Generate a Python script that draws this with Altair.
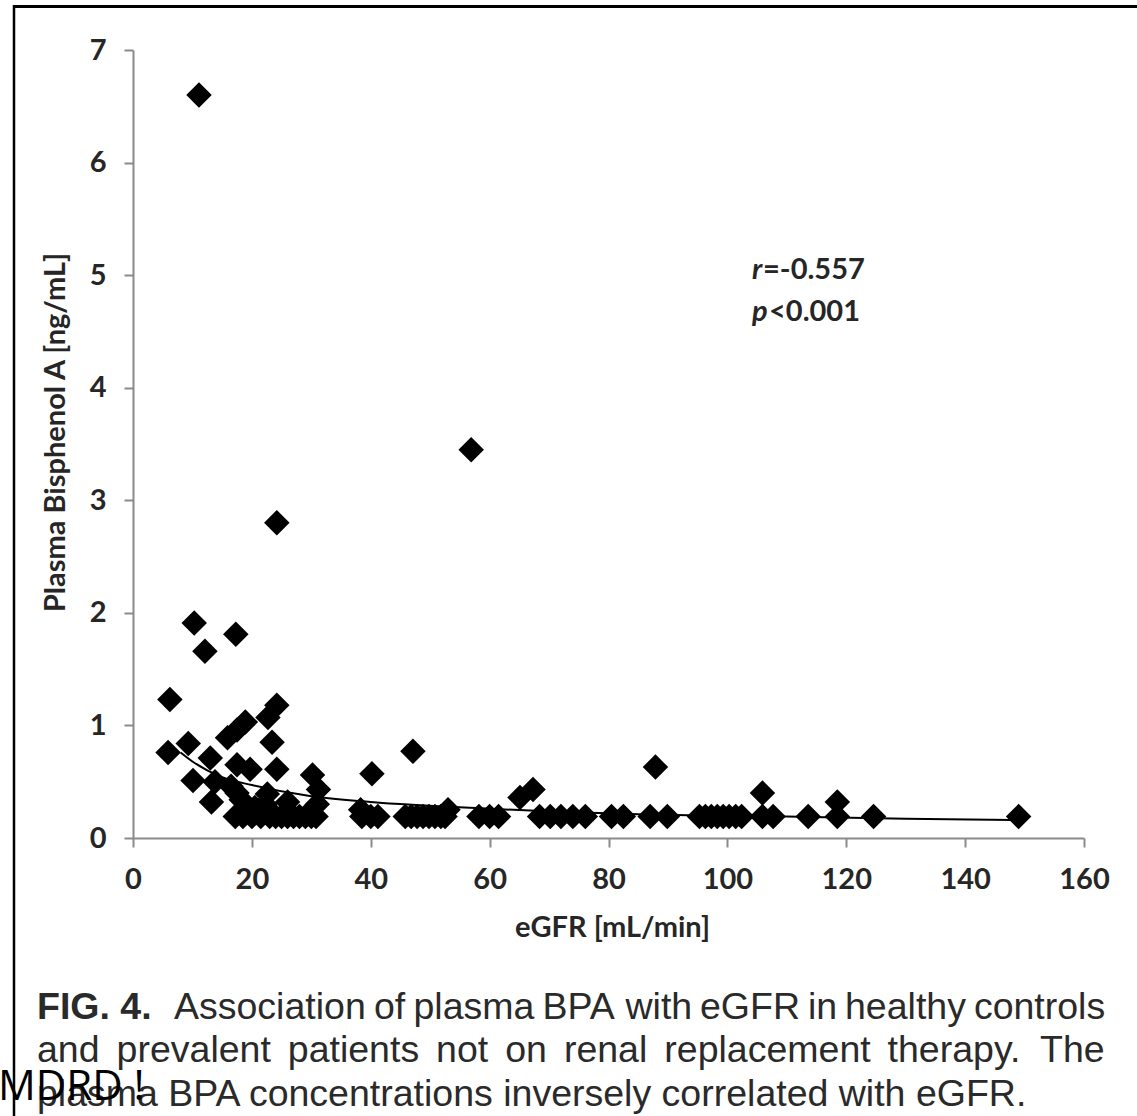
import altair as alt
import pandas as pd

# eGFR [mL/min] and plasma BPA [ng/mL] for each subject
egfr = [
    11.1, 56.9, 24.2, 10.3, 17.3, 12.1, 6.2, 24.2, 22.7, 18.9,
    17.5, 15.9, 23.4, 9.3, 5.9, 13.0, 47.1, 17.5, 19.7, 24.2,
    87.9, 40.2, 30.2, 10.1, 13.8, 16.5, 31.2, 17.5, 22.6, 18.2,
    13.2, 22.2, 26.0, 67.3, 65.1, 105.9, 118.5, 38.3, 53.0, 31.0,
    20.5,
    17.2, 18.5, 20.0, 21.5, 23.0, 24.0, 25.0, 26.0, 27.0, 28.0,
    29.0, 30.0, 30.8, 38.5, 40.0, 41.2, 45.8, 46.8, 47.8, 48.8,
    49.8, 50.8, 51.8, 52.5, 58.2, 60.0, 61.5, 68.4, 70.2, 72.0,
    74.0, 76.1, 80.5, 82.5, 87.0, 89.9, 95.3, 96.3, 97.3, 98.3,
    99.3, 100.3, 101.4, 102.4, 105.9, 107.7, 113.6, 118.5, 124.6, 149.0,
]
bpa = [
    6.60, 3.45, 2.80, 1.91, 1.81, 1.66, 1.23, 1.18, 1.07, 1.03,
    0.96, 0.89, 0.85, 0.84, 0.76, 0.71, 0.77, 0.65, 0.61, 0.61,
    0.63, 0.57, 0.56, 0.51, 0.50, 0.46, 0.43, 0.40, 0.39, 0.34,
    0.32, 0.30, 0.32, 0.43, 0.36, 0.40, 0.32, 0.25, 0.25, 0.30,
    0.27,
    0.19, 0.19, 0.19, 0.19, 0.19, 0.19, 0.19, 0.19, 0.19, 0.19,
    0.19, 0.19, 0.19, 0.19, 0.19, 0.19, 0.19, 0.19, 0.19, 0.19,
    0.19, 0.19, 0.19, 0.19, 0.19, 0.19, 0.19, 0.19, 0.19, 0.19,
    0.19, 0.19, 0.19, 0.19, 0.19, 0.19, 0.19, 0.19, 0.19, 0.19,
    0.19, 0.19, 0.19, 0.19, 0.19, 0.19, 0.19, 0.19, 0.19, 0.19,
]

# power-law trend line
trend_egfr = [8, 10, 15, 20, 30, 40, 60, 85, 110, 130, 149]
trend_bpa = [0.76, 0.68, 0.54, 0.47, 0.37, 0.32, 0.26, 0.21, 0.19, 0.17, 0.16]

x_ticks = [0, 20, 40, 60, 80, 100, 120, 140, 160]
y_ticks = [0, 1, 2, 3, 4, 5, 6, 7]

caption_line1 = ["Association", "of", "plasma", "BPA", "with", "eGFR", "in", "healthy", "controls"]
caption_line1_x = [174.0, 374.0, 413.5, 542.5, 625.5, 700.0, 808.0, 845.0, 973.9]
caption_line2 = ["and", "prevalent", "patients", "not", "on", "renal", "replacement", "therapy.", "The"]
caption_line2_x = [37.0, 116.6, 287.8, 436.1, 505.2, 563.9, 664.3, 887.6, 1040.1]
caption_line3 = "plasma BPA concentrations inversely correlated with eGFR."

points = pd.DataFrame({"egfr": egfr, "bpa": bpa})
trend = pd.DataFrame({"egfr": trend_egfr, "bpa": trend_bpa})

W, H = 951, 788
LEFT, TOP = 133, 50
AXIS_GREY = "#8a8a8a"
TEXT = "#262626"
one_row = alt.Data(values=[{"k": 0}])

x_enc = alt.X(
    "egfr:Q",
    scale=alt.Scale(domain=[0, 160], nice=False, zero=True),
    axis=alt.Axis(
        values=x_ticks, format="d", title="eGFR [mL/min]", grid=False,
        domainColor=AXIS_GREY, domainWidth=2, tickColor=AXIS_GREY, tickWidth=2, tickSize=9,
        labelFont="Lato", labelFontSize=29, labelFontWeight="bold", labelColor=TEXT,
        labelPadding=32, labelBaseline="middle", labelFlush=False,
        titleFont="Lato", titleFontSize=29, titleFontWeight="bold", titleColor=TEXT,
        titleX=479, titleY=89, titleBaseline="middle", titleAlign="center",
    ),
)
y_enc = alt.Y(
    "bpa:Q",
    scale=alt.Scale(domain=[0, 7], nice=False),
    axis=alt.Axis(
        values=y_ticks, format="d", title="Plasma Bisphenol A [ng/mL]", grid=False,
        domainColor=AXIS_GREY, domainWidth=2, tickColor=AXIS_GREY, tickWidth=2, tickSize=9,
        labelFont="Lato", labelFontSize=29, labelFontWeight="bold", labelColor=TEXT,
        labelPadding=18, labelFlush=False,
        titleFont="Lato", titleFontSize=29, titleFontWeight="bold", titleColor=TEXT,
        titleAngle=270, titleX=-78, titleY=382, titleBaseline="middle", titleAlign="center",
    ),
)

scatter = alt.Chart(points).mark_point(
    shape="diamond", filled=True, size=650, color="black", opacity=1, strokeWidth=0
).encode(x=x_enc, y=y_enc)

line = alt.Chart(trend).mark_line(
    color="black", strokeWidth=2, interpolate="monotone"
).encode(x="egfr:Q", y="bpa:Q")


def label(text, px, py, font="Lato", size=29, weight="normal", style="normal",
          color=TEXT, align="left", baseline="alphabetic"):
    return alt.Chart(one_row).mark_text(
        text=text, font=font, fontSize=size, fontWeight=weight, fontStyle=style,
        color=color, align=align, baseline=baseline,
    ).encode(x=alt.value(px - LEFT), y=alt.value(py - TOP))


stats = [
    label("r", 752, 279, style="italic", weight="bold"),
    label("=-0.557", 763, 279, weight="bold"),
    label("p", 752, 321, style="italic", weight="bold"),
    label("<0.001", 769, 321, weight="bold"),
]

CAP = "Liberation Sans"
CAP_SIZE = 37.5
CAP_COLOR = "#2a2a2a"
caption = [label("FIG. 4.", 37, 1019, font=CAP, size=CAP_SIZE, weight="bold", color=CAP_COLOR)]
caption += [label(w, x, 1019, font=CAP, size=CAP_SIZE, color=CAP_COLOR)
            for w, x in zip(caption_line1, caption_line1_x)]
caption += [label(w, x, 1062, font=CAP, size=CAP_SIZE, color=CAP_COLOR)
            for w, x in zip(caption_line2, caption_line2_x)]
caption += [label(caption_line3, 37, 1106, font=CAP, size=CAP_SIZE, color=CAP_COLOR)]

# page frame
frame_left = alt.Chart(one_row).mark_rule(color="black", strokeWidth=2.5).encode(
    x=alt.value(14 - LEFT), y=alt.value(5 - TOP), y2=alt.value(1130 - TOP)
)
frame_top = alt.Chart(one_row).mark_rule(color="black", strokeWidth=3).encode(
    x=alt.value(13 - LEFT), x2=alt.value(1150 - LEFT), y=alt.value(6.5 - TOP)
)

stamp = label("MDRD !", -2, 1100, font="Open Sans", size=42, color="black")

chart = alt.layer(
    frame_left, frame_top, line, scatter, *stats, *caption, stamp
).properties(
    width=W, height=H,
    padding={"left": LEFT, "top": TOP, "right": 1137 - LEFT - W, "bottom": 1116 - TOP - H},
    autosize=alt.AutoSizeParams(type="none"),
    background="white",
).configure_view(stroke=None)

chart.save("out.html", embed_options={"renderer": "svg", "actions": False})
